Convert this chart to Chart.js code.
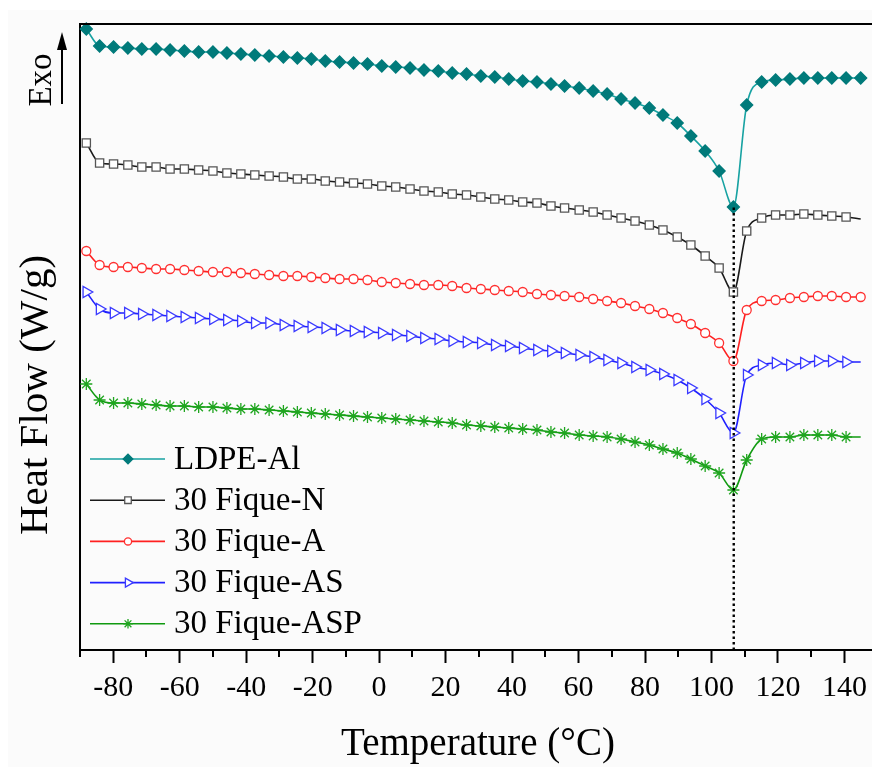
<!DOCTYPE html>
<html lang="en">
<head>
<meta charset="UTF-8">
<title>DSC - Heat Flow</title>
<script src="https://cdn.jsdelivr.net/npm/chart.js"></script>
<style>
  html, body { margin: 0; padding: 0; background: #fff; }
  #wrap { width: 872px; height: 767px; }
</style>
</head>
<body>
<div id="wrap"><canvas id="graficoDSC" width="872" height="767"></canvas></div>

<script>
// temperatura (°C) de cada ponto marcado
const temps = [-88.1, -84.1, -79.9, -75.6, -71.4, -67.1, -62.9, -58.6, -54.3, -50.0, -45.8, -41.6, -37.4, -33.1, -28.8, -24.6, -20.4, -16.2, -11.9,
  -7.7, -3.5, 0.8, 5.0, 9.3, 13.5, 17.8, 22.0, 26.3, 30.6, 34.8, 39.0, 43.2, 47.5, 51.7, 55.8, 60.2, 64.4, 68.6,
  72.8, 77.0, 81.3, 85.4, 89.7, 93.8, 98.1, 102.3, 106.6, 110.6, 115.1, 119.3, 123.6, 127.8, 132.0, 136.2, 140.5, 144.9];

// heat flow (u.a., curvas deslocadas)
const ldpeAl = [6.21, 6.04, 6.03, 6.02, 6.01, 6.01, 6.00, 5.99, 5.98, 5.98, 5.97, 5.96, 5.95, 5.94, 5.93, 5.92, 5.91, 5.89, 5.88,
  5.87, 5.86, 5.84, 5.83, 5.82, 5.80, 5.79, 5.77, 5.76, 5.74, 5.73, 5.71, 5.69, 5.68, 5.66, 5.64, 5.62, 5.59, 5.56,
  5.51, 5.47, 5.42, 5.35, 5.27, 5.14, 4.99, 4.79, 4.43, 5.45, 5.68, 5.70, 5.71, 5.72, 5.72, 5.72, 5.72, 5.72];
const fiqueN = [5.07, 4.87, 4.86, 4.85, 4.83, 4.83, 4.81, 4.81, 4.80, 4.79, 4.77, 4.76, 4.75, 4.74, 4.73, 4.71, 4.71, 4.69, 4.68,
  4.67, 4.66, 4.64, 4.63, 4.61, 4.59, 4.58, 4.56, 4.55, 4.53, 4.51, 4.50, 4.48, 4.47, 4.44, 4.42, 4.40, 4.38, 4.35,
  4.32, 4.29, 4.25, 4.20, 4.13, 4.05, 3.94, 3.82, 3.58, 4.19, 4.32, 4.35, 4.35, 4.36, 4.35, 4.34, 4.33, 4.31];
const fiqueA = [3.99, 3.85, 3.83, 3.83, 3.82, 3.81, 3.81, 3.80, 3.79, 3.78, 3.78, 3.77, 3.76, 3.75, 3.74, 3.74, 3.73, 3.72, 3.71,
  3.71, 3.70, 3.68, 3.67, 3.66, 3.65, 3.65, 3.64, 3.62, 3.61, 3.60, 3.59, 3.58, 3.56, 3.55, 3.54, 3.53, 3.51, 3.49,
  3.47, 3.44, 3.41, 3.37, 3.32, 3.26, 3.17, 3.07, 2.89, 3.40, 3.49, 3.50, 3.52, 3.53, 3.54, 3.54, 3.53, 3.53];
const fiqueAS = [3.58, 3.41, 3.37, 3.37, 3.36, 3.35, 3.34, 3.33, 3.32, 3.31, 3.30, 3.29, 3.27, 3.27, 3.25, 3.24, 3.23, 3.22, 3.20,
  3.19, 3.18, 3.17, 3.15, 3.14, 3.12, 3.11, 3.09, 3.08, 3.07, 3.05, 3.04, 3.02, 3.00, 2.99, 2.97, 2.95, 2.93, 2.90,
  2.87, 2.83, 2.80, 2.76, 2.70, 2.62, 2.51, 2.37, 2.17, 2.75, 2.85, 2.87, 2.85, 2.87, 2.89, 2.89, 2.88, 2.88];
const fiqueASP = [2.66, 2.50, 2.47, 2.47, 2.46, 2.45, 2.44, 2.44, 2.43, 2.43, 2.42, 2.41, 2.41, 2.40, 2.39, 2.38, 2.37, 2.36, 2.35,
  2.34, 2.33, 2.32, 2.31, 2.30, 2.29, 2.28, 2.27, 2.25, 2.24, 2.23, 2.22, 2.21, 2.20, 2.18, 2.17, 2.15, 2.14, 2.13,
  2.11, 2.08, 2.05, 2.01, 1.97, 1.91, 1.84, 1.77, 1.60, 1.90, 2.11, 2.13, 2.13, 2.15, 2.15, 2.15, 2.13, 2.13];

const seriesNames = ['LDPE-Al', '30 Fique-N', '30 Fique-A', '30 Fique-AS', '30 Fique-ASP'];

// linha pontilhada no pico de fusão
const picoX = [106.7, 106.7];
const picoY = [0, 4.43];

const xMajorTicks = [-80, -60, -40, -20, 0, 20, 40, 60, 80, 100, 120, 140];
const xMinorTicks = [-90, -70, -50, -30, -10, 10, 30, 50, 70, 90, 110, 130];

const fonte = '"Liberation Serif", "Times New Roman", serif';

function pontos(ys, xs) {
    return ys.map((y, i) => ({ x: (xs || temps)[i], y }));
}

// o ultimo ponto de algumas curvas nao tem marcador
function raio(r, semUltimo) {
    return ctx => (semUltimo && ctx.dataIndex === ctx.dataset.data.length - 1) ? 0 : r;
}

function serie(nome, ys, cor, marcador) {
    return {
        label: nome,
        data: pontos(ys),
        borderColor: cor.linha,
        borderWidth: 1.6,
        pointStyle: marcador.estilo,
        pointRotation: marcador.rot || 0,
        pointRadius: raio(marcador.r, marcador.semUltimo),
        legendRadius: marcador.r * 0.8,
        pointBackgroundColor: cor.fundo,
        pointBorderColor: cor.marca,
        pointBorderWidth: 1.3,
        cubicInterpolationMode: 'monotone',
        clip: false,
        order: 1
    };
}

const datasets = [
    serie(seriesNames[0], ldpeAl, { linha: '#17a2a2', marca: '#007a7a', fundo: '#007a7a' }, { estilo: 'rectRot', r: 6 }),
    serie(seriesNames[1], fiqueN, { linha: '#1a1a1a', marca: '#555555', fundo: '#ffffff' }, { estilo: 'rect', r: 5.8, semUltimo: true }),
    serie(seriesNames[2], fiqueA, { linha: '#ff2020', marca: '#ff3030', fundo: '#ffffff' }, { estilo: 'circle', r: 4.5 }),
    serie(seriesNames[3], fiqueAS, { linha: '#2020ff', marca: '#3a3aff', fundo: '#ffffff' }, { estilo: 'triangle', rot: 90, r: 6.5, semUltimo: true }),
    serie(seriesNames[4], fiqueASP, { linha: '#109a10', marca: '#1fa51f', fundo: '#1fa51f' }, { estilo: 'star', r: 6, semUltimo: true }),
    {
        label: 'pico',
        data: pontos(picoY, picoX),
        borderColor: '#000',
        borderWidth: 2.4,
        borderDash: [2.5, 3],
        pointRadius: 0,
        order: 0
    }
];

const fundoPlugin = {
    id: 'fundo',
    beforeDraw(chart) {
        const ctx = chart.ctx;
        ctx.save();
        ctx.fillStyle = '#ffffff';
        ctx.fillRect(0, 0, chart.width, chart.height);
        ctx.fillStyle = '#fbfbfb';
        ctx.fillRect(8, 10, chart.width - 8, chart.height - 10);
        ctx.restore();
    }
};

const molduraPlugin = {
    id: 'moldura',
    afterDraw(chart) {
        const ctx = chart.ctx;
        const area = chart.chartArea;
        const xs = chart.scales.x;
        ctx.save();
        ctx.strokeStyle = '#000';
        ctx.lineWidth = 2;
        // borda superior
        ctx.beginPath();
        ctx.moveTo(area.left - 1, area.top);
        ctx.lineTo(area.right, area.top);
        ctx.stroke();
        // ticks menores
        xMinorTicks.forEach(v => {
            const px = Math.round(xs.getPixelForValue(v));
            ctx.beginPath();
            ctx.moveTo(px, area.bottom);
            ctx.lineTo(px, area.bottom + 7);
            ctx.stroke();
        });

        ctx.fillStyle = '#000';
        ctx.textAlign = 'center';
        ctx.textBaseline = 'middle';
        ctx.font = '39px ' + fonte;
        ctx.fillText('Temperature (°C)', 478, 745);

        ctx.save();
        ctx.translate(36, 395);
        ctx.rotate(-Math.PI / 2);
        ctx.font = '41px ' + fonte;
        ctx.fillText('Heat Flow (W/g)', 0, 0);
        ctx.restore();

        // Exo + seta
        ctx.save();
        ctx.translate(42, 80);
        ctx.rotate(-Math.PI / 2);
        ctx.font = '33px ' + fonte;
        ctx.fillText('Exo', 0, 0);
        ctx.restore();
        ctx.beginPath();
        ctx.moveTo(62, 104);
        ctx.lineTo(62, 46);
        ctx.stroke();
        ctx.beginPath();
        ctx.moveTo(62, 32);
        ctx.lineTo(57, 50);
        ctx.lineTo(67, 50);
        ctx.closePath();
        ctx.fill();
        ctx.restore();
    }
};

const legendaPlugin = {
    id: 'legenda',
    afterDraw(chart) {
        const ctx = chart.ctx;
        ctx.save();
        ctx.font = '33px ' + fonte;
        ctx.textBaseline = 'middle';
        ctx.textAlign = 'left';
        seriesNames.forEach((nome, i) => {
            const ds = chart.data.datasets[i];
            const y = 459 + i * 41.2;
            ctx.setLineDash([]);
            ctx.strokeStyle = ds.borderColor;
            ctx.lineWidth = ds.borderWidth;
            ctx.beginPath();
            ctx.moveTo(90, y);
            ctx.lineTo(165, y);
            ctx.stroke();
            ctx.fillStyle = ds.pointBackgroundColor;
            ctx.strokeStyle = ds.pointBorderColor;
            ctx.lineWidth = ds.pointBorderWidth;
            if (Chart.helpers && Chart.helpers.drawPoint) {
                Chart.helpers.drawPoint(ctx, {
                    pointStyle: ds.pointStyle,
                    rotation: ds.pointRotation,
                    radius: ds.legendRadius,
                    borderWidth: ds.pointBorderWidth
                }, 128, y);
            }
            ctx.fillStyle = '#000';
            ctx.fillText(nome, 174, y + 1);
        });
        ctx.restore();
    }
};

const config = {
    type: 'line',
    data: { datasets },
    options: {
        responsive: false,
        animation: false,
        devicePixelRatio: 1,
        layout: { autoPadding: false, padding: { left: 80, top: 24, right: 0, bottom: 0 } },
        plugins: {
            legend: { display: false },
            tooltip: { enabled: false }
        },
        scales: {
            x: {
                type: 'linear',
                min: -90,
                max: 148.3,
                afterFit: s => {
                    s.height = 117;
                    s.paddingLeft = 0;
                    s.paddingRight = 0;
                },
                afterBuildTicks: s => {
                    s.ticks = xMinorTicks.concat(xMajorTicks).sort((a, b) => a - b).map(v => ({ value: v }));
                },
                border: { display: true, color: '#000', width: 2 },
                grid: {
                    drawOnChartArea: false,
                    drawTicks: true,
                    tickLength: 13,
                    tickWidth: 2,
                    tickColor: c => xMajorTicks.includes(c.tick.value) ? '#000' : 'rgba(0,0,0,0)'
                },
                ticks: {
                    autoSkip: false,
                    maxRotation: 0,
                    padding: 7,
                    color: '#000',
                    font: { family: fonte, size: 30 },
                    callback: v => xMajorTicks.includes(v) ? String(v) : ''
                }
            },
            y: {
                type: 'linear',
                min: 0,
                max: 6.26,
                afterFit: s => {
                    s.width = 0;
                    s.paddingTop = 0;
                    s.paddingBottom = 0;
                },
                border: { display: true, color: '#000', width: 2 },
                grid: { display: false, drawTicks: false },
                ticks: { display: false }
            }
        }
    },
    plugins: [fundoPlugin, molduraPlugin, legendaPlugin]
};

const graficoDSC = new Chart(document.getElementById('graficoDSC').getContext('2d'), config);
</script>
</body>
</html>
